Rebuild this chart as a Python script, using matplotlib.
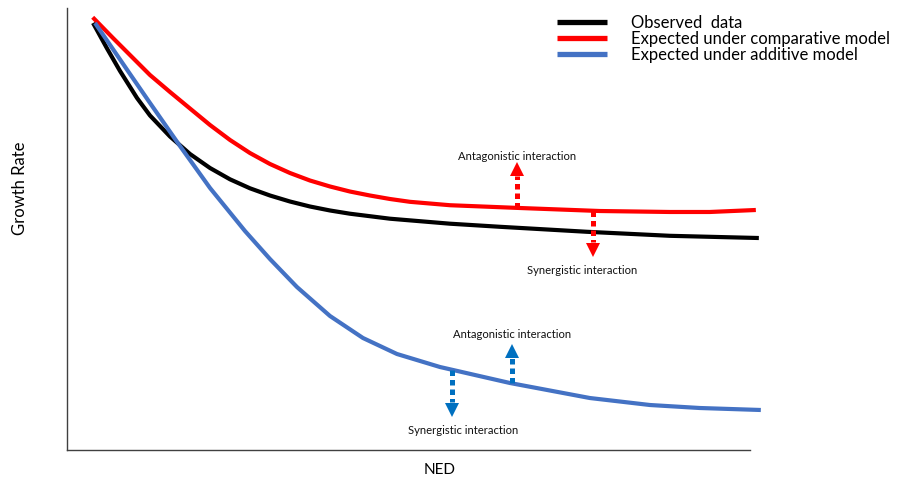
import matplotlib
matplotlib.use("Agg")
import matplotlib.pyplot as plt

plt.rcParams['font.family'] = ['Lato', 'DejaVu Sans']

# curves (x: NED, y: growth rate, both 0-100 arbitrary units)
observed_x = [3.81, 5.86, 7.76, 10.25, 12.15, 15.08, 18.01, 20.94, 23.87, 26.79, 29.72,
              32.65, 35.58, 38.51, 41.43, 47.29, 56.08, 63.40, 76.13, 88.29, 101.32]
observed_y = [96.61, 90.84, 85.75, 79.64, 75.68, 70.93, 66.97, 63.80, 61.24, 59.21, 57.58,
              56.22, 55.09, 54.19, 53.46, 52.33, 51.20, 50.50, 49.37, 48.46, 47.96]

comparative_x = [3.76, 6.73, 12.15, 15.08, 18.01, 20.94, 23.87, 26.79, 29.72, 32.65, 35.58,
                 38.51, 41.43, 44.36, 47.29, 50.22, 56.08, 66.33, 78.04, 88.29, 94.14, 100.88]
comparative_y = [97.90, 93.21, 84.84, 81.00, 77.26, 73.53, 70.14, 67.19, 64.71, 62.67, 60.97,
                 59.62, 58.48, 57.58, 56.79, 56.15, 55.38, 54.75, 54.07, 53.85, 53.85, 54.30]

additive_x = [4.10, 9.22, 12.15, 16.54, 20.94, 26.06, 29.72, 33.67, 38.51, 43.34, 48.32,
              54.61, 64.86, 76.57, 85.36, 92.68, 101.61]
additive_y = [96.61, 85.07, 78.51, 68.78, 59.28, 49.55, 43.21, 36.88, 30.32, 25.34, 21.72,
              18.78, 15.16, 11.76, 10.18, 9.50, 9.05]

labels = ["Observed  data", "Expected under comparative model", "Expected under additive model"]

# interaction arrows: x, shaft start, shaft end, head centre
red_up = (65.9, 54.8, 62.0, 63.6)
red_down = (77.0, 54.1, 47.1, 45.2)
blue_up = (65.2, 15.1, 20.8, 22.4)
blue_down = (56.4, 18.2, 10.9, 9.0)

# text positions for the arrow labels
red_up_label = (65.9, 66.5)
red_down_label = (75.5, 40.7)
blue_up_label = (65.2, 26.2)
blue_down_label = (58.0, 4.3)

RED = "#FF0000"
BLUE_LINE = "#4472C4"
BLUE_ARROW = "#0070C0"

fig = plt.figure(figsize=(9.02, 4.82), dpi=100)
ax = fig.add_axes([0.0743, 0.0664, 0.757, 0.917])
ax.set_xlim(0, 100)
ax.set_ylim(0, 100)

for xs, ys, c, lab in [(observed_x, observed_y, "black", labels[0]),
                       (comparative_x, comparative_y, RED, labels[1]),
                       (additive_x, additive_y, BLUE_LINE, labels[2])]:
    ax.plot(xs, ys, color=c, lw=3.0, clip_on=False, solid_capstyle="butt",
            solid_joinstyle="round", label=lab)


def draw_arrow(arrow, color, up):
    x, y0, y1, yh = arrow
    ax.plot([x, x], [y0, y1], color=color, lw=3.6, ls=(0, (1.1, 0.8)),
            dash_capstyle="butt")
    ax.plot([x], [yh], marker="^" if up else "v", ms=10, color=color, mew=0)


draw_arrow(red_up, RED, True)
draw_arrow(red_down, RED, False)
draw_arrow(blue_up, BLUE_ARROW, True)
draw_arrow(blue_down, BLUE_ARROW, False)

for pos, txt in [(red_up_label, "Antagonistic interaction"),
                 (red_down_label, "Synergistic interaction"),
                 (blue_up_label, "Antagonistic interaction"),
                 (blue_down_label, "Synergistic interaction")]:
    ax.text(pos[0], pos[1], txt, fontsize=8.1, ha="center", va="center", color="#111111")

ax.set_xticks([])
ax.set_yticks([])
for side in ["top", "right"]:
    ax.spines[side].set_visible(False)
for side in ["left", "bottom"]:
    ax.spines[side].set_color("#404040")
    ax.spines[side].set_linewidth(1.0)

ax.set_xlabel("NED", fontsize=11)
ax.set_ylabel("Growth Rate", fontsize=12)
ax.xaxis.set_label_coords(0.545, -0.03)
ax.yaxis.set_label_coords(-0.057, 0.593)

leg = ax.legend(loc="upper left", bbox_to_anchor=(0.6085, 0.987), bbox_transform=fig.transFigure,
                frameon=False, fontsize=12, handlelength=3.0, handletextpad=1.45,
                labelspacing=0.0, borderpad=0)
for line in leg.get_lines():
    line.set_linewidth(3.8)

fig.savefig("out.png", dpi=100)
